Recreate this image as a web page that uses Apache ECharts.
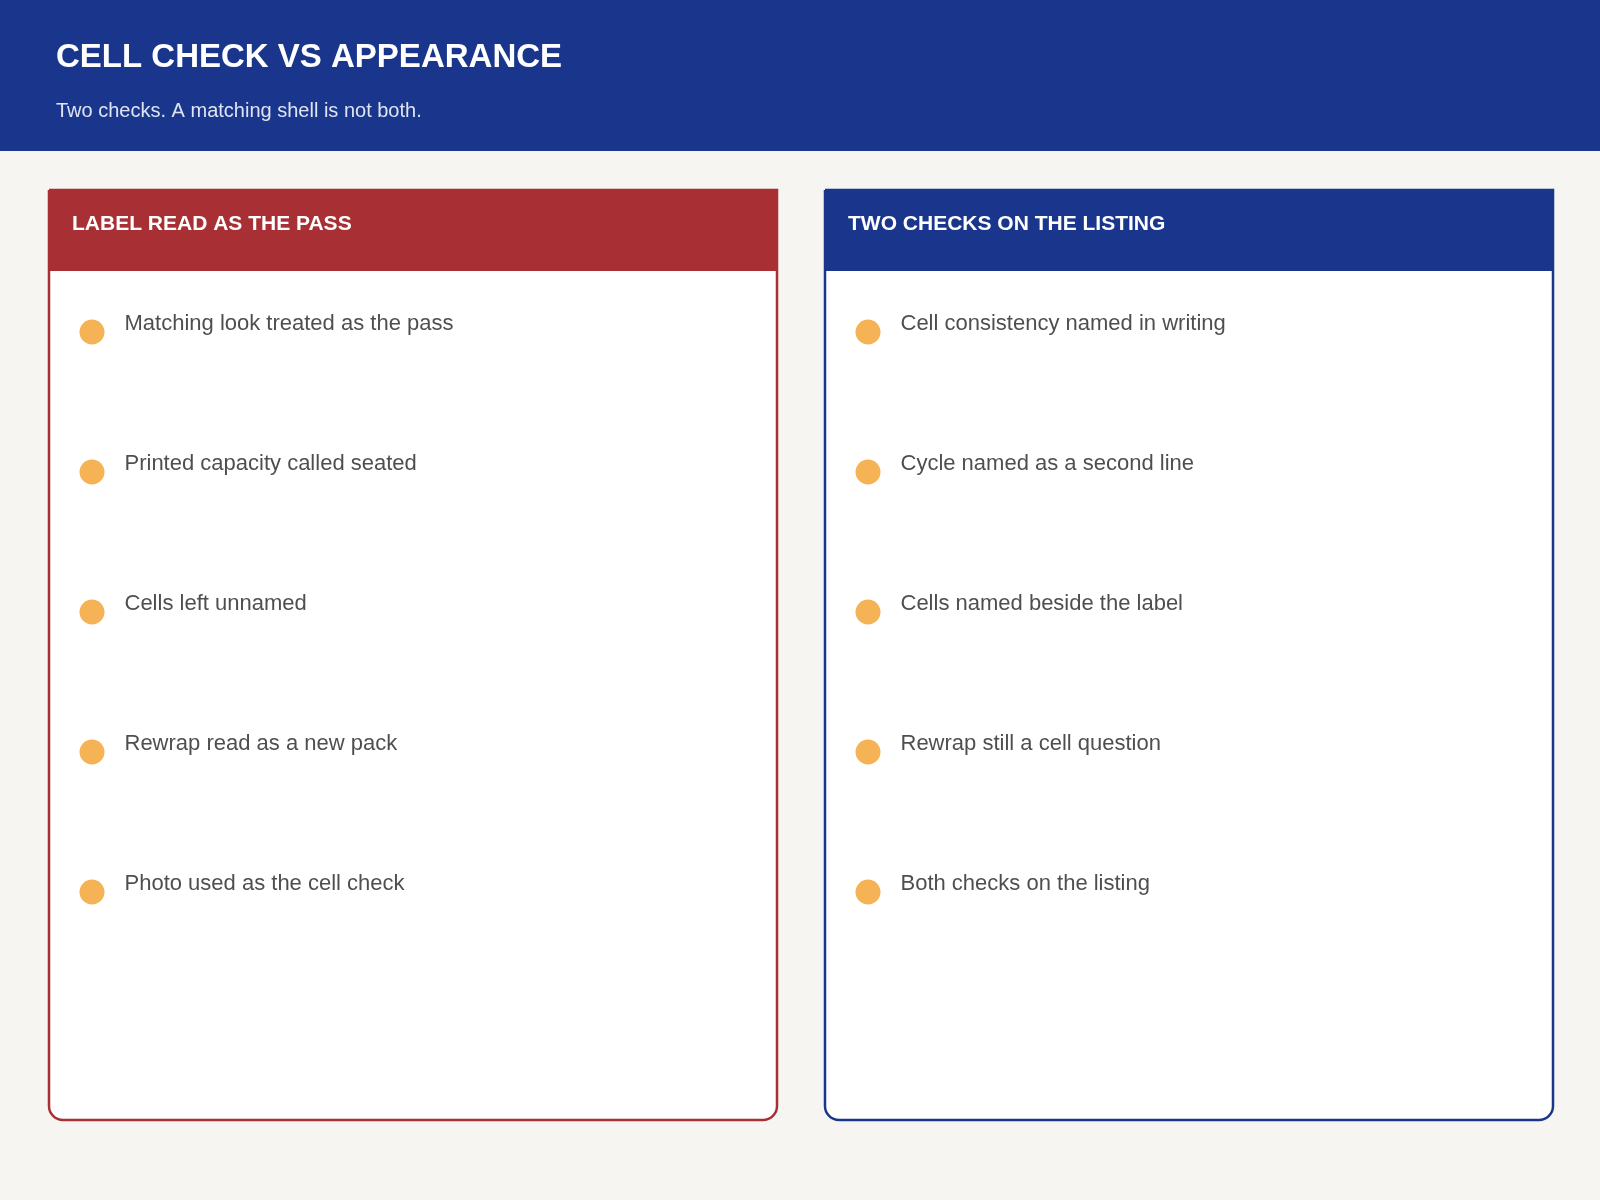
<!DOCTYPE html>
<html><head><meta charset="utf-8">
<script src="https://cdn.jsdelivr.net/npm/echarts@6/dist/echarts.min.js"></script>
<style>html,body{margin:0;padding:0;background:#f6f5f1}#c{width:1600px;height:1200px}</style>
</head><body><div id="c"></div>
<script>
// text content
const titleText = "CELL CHECK VS APPEARANCE";
const subtitleText = "Two checks. A matching shell is not both.";
const leftHeader = "LABEL READ AS THE PASS";
const rightHeader = "TWO CHECKS ON THE LISTING";
const leftItems = [
  "Matching look treated as the pass",
  "Printed capacity called seated",
  "Cells left unnamed",
  "Rewrap read as a new pack",
  "Photo used as the cell check"
];
const rightItems = [
  "Cell consistency named in writing",
  "Cycle named as a second line",
  "Cells named beside the label",
  "Rewrap still a cell question",
  "Both checks on the listing"
];

const NAVY = "#1a368c", RED = "#a82f33", ORANGE = "#f4a02a";
const chart = echarts.init(document.getElementById("c"));

function panel(x, color, header) {
  return [
    { type: "rect", shape: { x: x, y: 190, width: 728, height: 930, r: [0, 0, 14, 14] },
      style: { fill: "#fff", stroke: color, lineWidth: 2.5 } },
    { type: "rect", shape: { x: x, y: 190, width: 728, height: 81 }, style: { fill: color } },
    { type: "text", x: x + 23, y: 224, style: { text: header, fill: "#fff",
      font: "bold 21px Arial, 'Liberation Sans', sans-serif", verticalAlign: "middle" } }
  ];
}

function grid(left) { return { left: left, top: 262, width: 600, height: 700 }; }
function xAxis(i) { return { gridIndex: i, type: "value", min: 0, max: 1, show: false }; }
function yAxis(i, items) { return { gridIndex: i, type: "category", data: items, inverse: true, show: false }; }
function series(i, items) {
  return {
    type: "scatter", xAxisIndex: i, yAxisIndex: i, symbolSize: 25, silent: true,
    itemStyle: { color: ORANGE },
    data: items.map((t) => [0, t]),
    label: { show: true, position: "right", distance: 20, offset: [0, -8],
      formatter: (p) => p.data[1], color: "#222",
      fontFamily: "Arial, 'Liberation Sans', sans-serif", fontSize: 22 }
  };
}

chart.setOption({
  backgroundColor: "#f6f5f1",
  animation: false,
  graphic: [
    { type: "rect", shape: { x: 0, y: 0, width: 1600, height: 151 }, style: { fill: NAVY } },
    { type: "text", x: 56, y: 58, style: { text: titleText, fill: "#fff",
      font: "bold 33px Arial, 'Liberation Sans', sans-serif", verticalAlign: "middle" } },
    { type: "text", x: 56, y: 111, style: { text: subtitleText, fill: "#dfe4f2",
      font: "20px Arial, 'Liberation Sans', sans-serif", verticalAlign: "middle" } },
    ...panel(49, RED, leftHeader),
    ...panel(825, NAVY, rightHeader)
  ],
  grid: [grid(92), grid(868)],
  xAxis: [xAxis(0), xAxis(1)],
  yAxis: [yAxis(0, leftItems), yAxis(1, rightItems)],
  series: [series(0, leftItems), series(1, rightItems)]
});
</script></body></html>
